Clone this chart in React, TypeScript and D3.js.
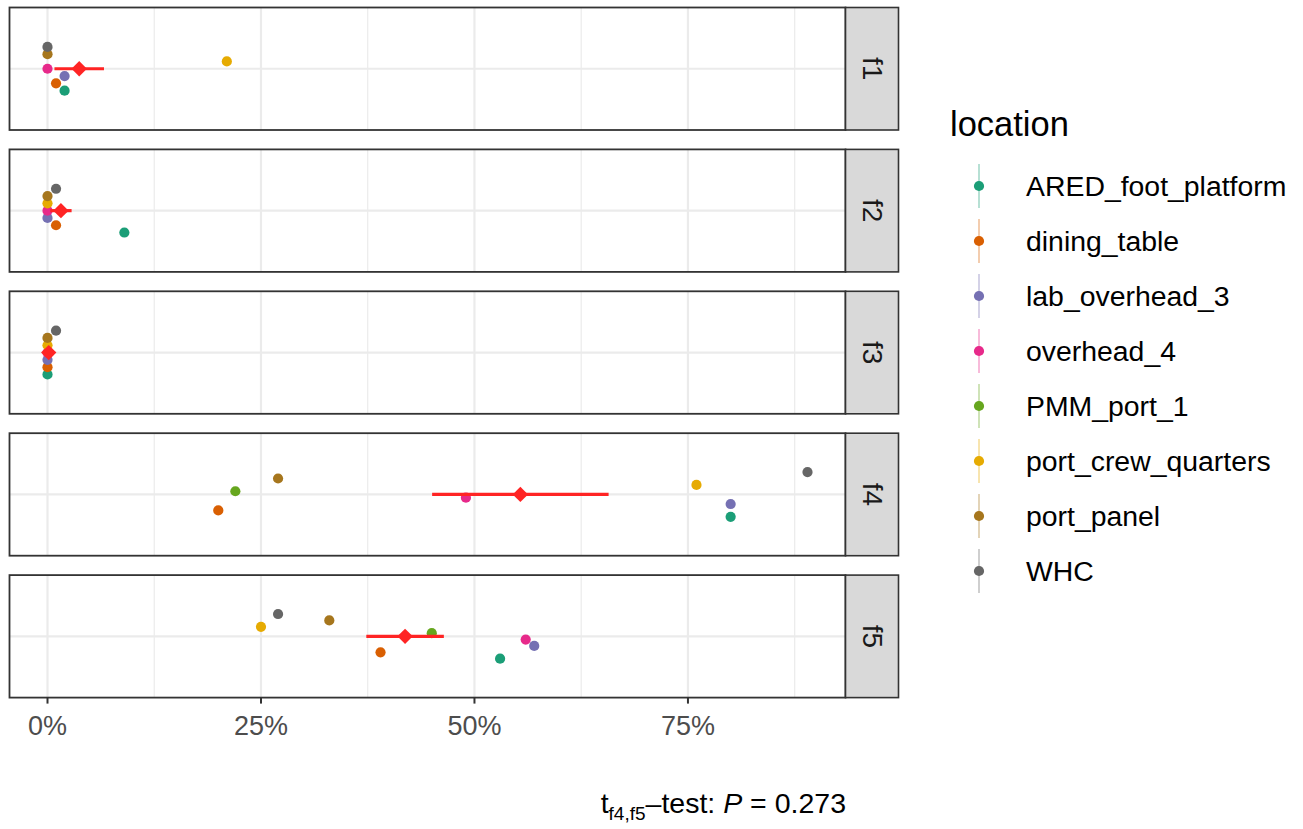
import React from "react";
import * as d3 from "d3";

// facets (rows) and locations (colour groups)
const facets = ["f1", "f2", "f3", "f4", "f5"];
const locations = [
  "ARED_foot_platform",
  "dining_table",
  "lab_overhead_3",
  "overhead_4",
  "PMM_port_1",
  "port_crew_quarters",
  "port_panel",
  "WHC",
];
const locationColors = ["#1B9E77", "#D95F02", "#7570B3", "#E7298A", "#66A61E", "#E6AB02", "#A6761D", "#666666"];

// percent per facet f1..f5 (null = no sample)
const aredFootPlatform = [2, 9, 0, 80, 53];
const diningTable = [1, 1, 0, 20, 39];
const labOverhead3 = [2, 0, 0, 80, 57];
const overhead4 = [0, 0, 0, 49, 56];
const pmmPort1 = [null, null, null, 22, 45];
const portCrewQuarters = [21, 0, 0, 76, 25];
const portPanel = [0, 0, 0, 27, 33];
const whc = [0, 1, 1, 89, 27];

const majorTicks = [0, 25, 50, 75];
const minorTicks = [12.5, 37.5, 62.5, 87.5];
const pValue = "0.273";

const seriesValues = [aredFootPlatform, diningTable, labOverhead3, overhead4, pmmPort1, portCrewQuarters, portPanel, whc];

const W = 1303, H = 829;
const panelLeft = 9.5, panelRight = 845.5;
const stripW = 53;
const panelTop = 7.5, panelH = 122.5, panelGap = 19.4;
const font = "'Liberation Sans', Arial, Helvetica, sans-serif";

const color = d3.scaleOrdinal<string, string>().domain(locations).range(locationColors);

const App = () => {
  const rows = facets.map((f, i) => {
    const pts = locations
      .map((loc, j) => ({ loc, v: seriesValues[j][i] }))
      .filter((d) => d.v !== null) as { loc: string; v: number }[];
    const vals = pts.map((d) => d.v);
    const mean = d3.mean(vals) as number;
    const se = (d3.deviation(vals) as number) / Math.sqrt(vals.length);
    return { f, pts, mean, se };
  });

  const all = rows.flatMap((r) => [...r.pts.map((d) => d.v), r.mean - r.se, r.mean + r.se]);
  const [lo, hi] = d3.extent(all) as [number, number];
  const pad = (hi - lo) * 0.05;
  const x = d3.scaleLinear().domain([lo - pad, hi + pad]).range([panelLeft, panelRight]);

  const diamond = d3.symbol().type(d3.symbolDiamond2).size(150)();

  return (
    <svg width={W} height={H} style={{ position: "absolute", left: 0, top: 0, display: "block", background: "#fff" }}>
      {rows.map((r, i) => {
        const top = panelTop + i * (panelH + panelGap);
        // discrete y with ggplot's 0.6 expansion, dodge width 0.5
        const y = d3.scaleLinear().domain([0.4, 1.6]).range([top + panelH, top]);
        const dodge = d3
          .scaleBand<string>()
          .domain(r.pts.map((d) => d.loc))
          .range([y(0.75), y(1.25)]);
        const cy = (loc: string) => (dodge(loc) as number) + dodge.bandwidth() / 2;
        return (
          <g key={r.f}>
            <rect x={panelLeft} y={top} width={panelRight - panelLeft} height={panelH} fill="#fff" />
            {minorTicks.map((t) => (
              <line key={"m" + t} x1={x(t)} x2={x(t)} y1={top} y2={top + panelH} stroke="#EBEBEB" strokeWidth={1.2} />
            ))}
            {majorTicks.map((t) => (
              <line key={"M" + t} x1={x(t)} x2={x(t)} y1={top} y2={top + panelH} stroke="#EBEBEB" strokeWidth={2.2} />
            ))}
            <line x1={panelLeft} x2={panelRight} y1={y(1)} y2={y(1)} stroke="#EBEBEB" strokeWidth={2.2} />
            {r.pts.map((d) => (
              <circle key={d.loc} cx={x(d.v)} cy={cy(d.loc)} r={5.1} fill={color(d.loc)} />
            ))}
            <line x1={x(r.mean - r.se)} x2={x(r.mean + r.se)} y1={y(1)} y2={y(1)} stroke="#FF2424" strokeWidth={3.2} />
            <path d={diamond as string} transform={`translate(${x(r.mean)},${y(1)})`} fill="#FF2424" />
            <rect x={panelLeft} y={top} width={panelRight - panelLeft} height={panelH} fill="none" stroke="#333" strokeWidth={1.8} />
            <rect x={panelRight} y={top} width={stripW} height={panelH} fill="#D9D9D9" stroke="#333" strokeWidth={1.6} />
            <text
              transform={`translate(${panelRight + stripW / 2 - 9.5},${top + panelH / 2}) rotate(90)`}
              textAnchor="middle"
              fontFamily={font}
              fontSize={28}
              fill="#1A1A1A"
            >
              {r.f}
            </text>
            {i === rows.length - 1 &&
              majorTicks.map((t) => (
                <g key={"t" + t}>
                  <line x1={x(t)} x2={x(t)} y1={top + panelH} y2={top + panelH + 6} stroke="#333" strokeWidth={2} />
                  <text x={x(t)} y={top + panelH + 37} textAnchor="middle" fontFamily={font} fontSize={27} fill="#4D4D4D">
                    {t + "%"}
                  </text>
                </g>
              ))}
          </g>
        );
      })}

      {/* legend */}
      <text x={950} y={136} fontFamily={font} fontSize={34.5} fill="#000">
        location
      </text>
      {locations.map((loc, j) => {
        const ly = 186 + j * 55;
        return (
          <g key={loc}>
            <line x1={979} x2={979} y1={ly - 22} y2={ly + 22} stroke={color(loc)} strokeOpacity={0.45} strokeWidth={1.4} />
            <circle cx={979} cy={ly} r={5.1} fill={color(loc)} />
            <text x={1026} y={ly + 9.5} fontFamily={font} fontSize={28.4} fill="#000">
              {loc}
            </text>
          </g>
        );
      })}

      {/* caption */}
      <text x={846} y={813} textAnchor="end" fontFamily={font} fontSize={28.5} fill="#000">
        <tspan>t</tspan>
        <tspan fontSize={19} dy={7}>f4,f5</tspan>
        <tspan dy={-7}>–test: </tspan>
        <tspan fontStyle="italic">P</tspan>
        <tspan>{" = " + pValue}</tspan>
      </text>
    </svg>
  );
};

export default App;
